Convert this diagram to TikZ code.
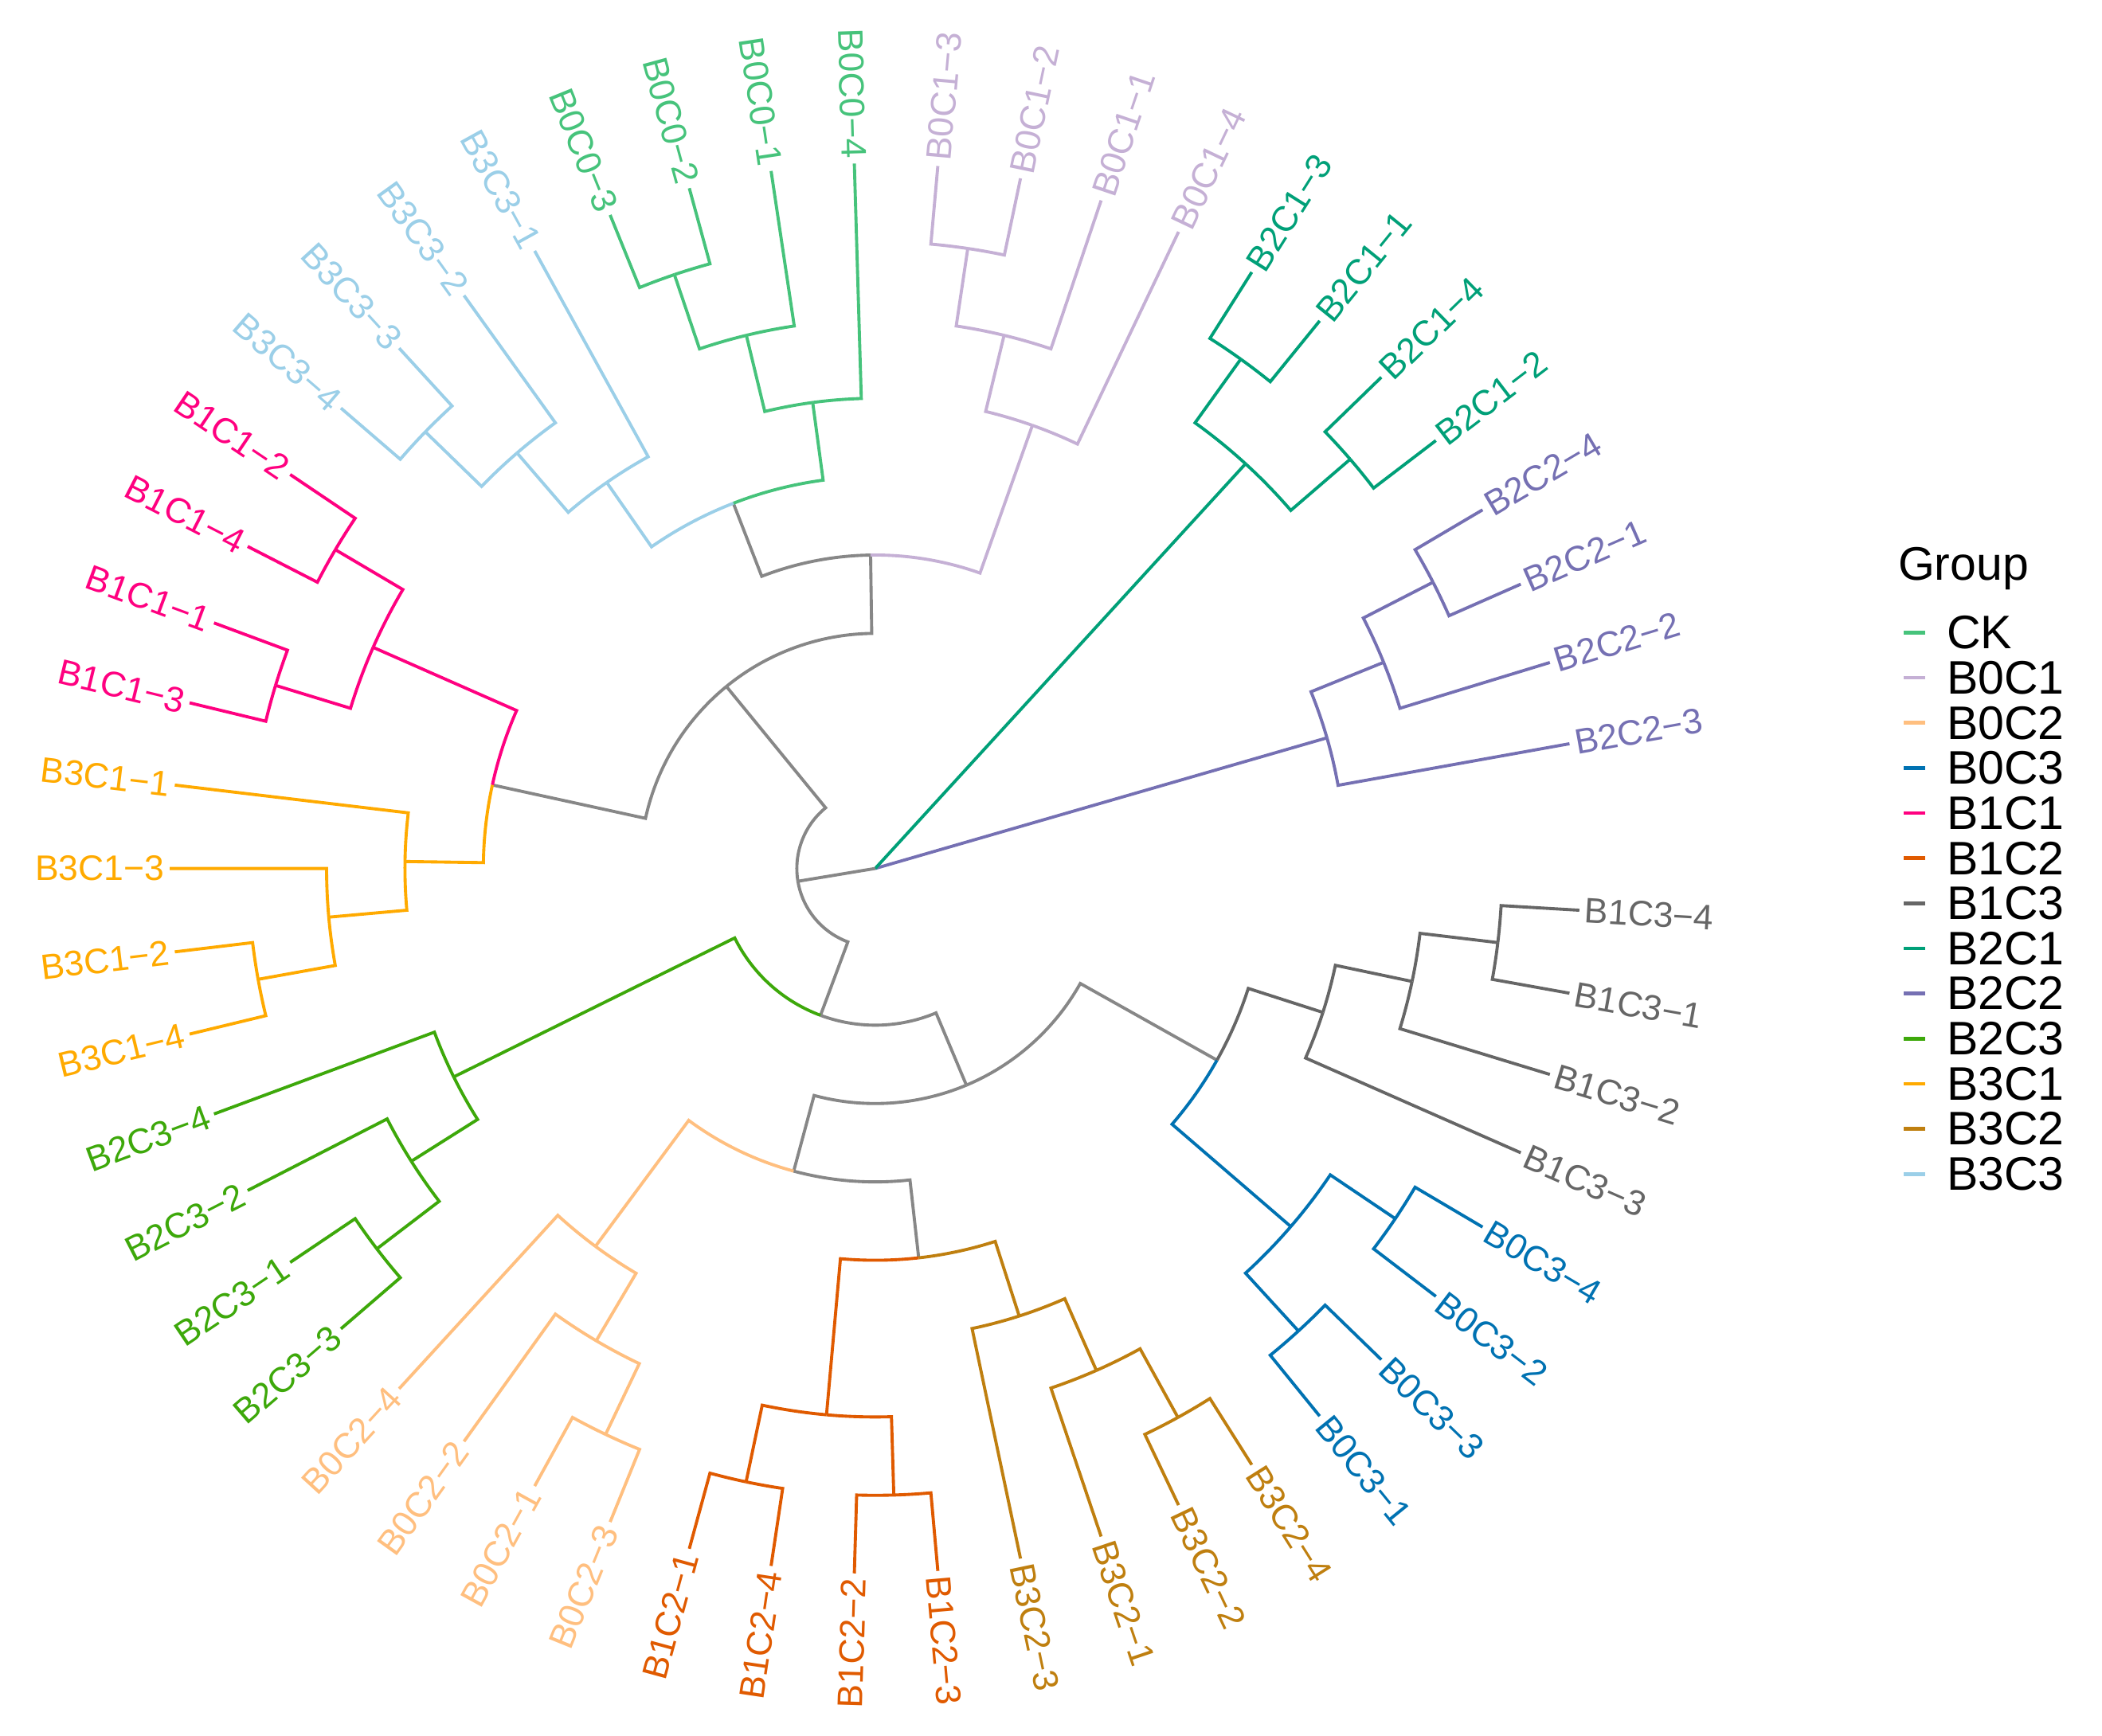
\documentclass[tikz,border=0pt]{standalone}
\usepackage{fontspec}
\setmainfont{Liberation Sans}
\definecolor{gry}{HTML}{878787}
\definecolor{cCK}{HTML}{46C37B}
\definecolor{cB0C1}{HTML}{C5B0D5}
\definecolor{cB0C2}{HTML}{FFBF7F}
\definecolor{cB0C3}{HTML}{0072B2}
\definecolor{cB1C1}{HTML}{FF0080}
\definecolor{cB1C2}{HTML}{E05A00}
\definecolor{cB1C3}{HTML}{666666}
\definecolor{cB2C1}{HTML}{00A078}
\definecolor{cB2C2}{HTML}{7570B3}
\definecolor{cB2C3}{HTML}{3DA80A}
\definecolor{cB3C1}{HTML}{FFAA00}
\definecolor{cB3C2}{HTML}{BF7F0F}
\definecolor{cB3C3}{HTML}{9BCFE8}
% branch: colour, parent y, parent level, child y, child level
\newcommand{\tbr}[5]{%
  \pgfmathsetmacro\tpa{(#2)*\D}\pgfmathsetmacro\tpr{(#3)*0.984}%
  \pgfmathsetmacro\tca{(#4)*\D}\pgfmathsetmacro\tcr{(#5)*0.984}%
  \draw[br,#1] ([shift={(C)}]\tpa:\tpr) arc[start angle=\tpa, end angle=\tca, radius=\tpr cm] -- ([shift={(C)}]\tca:\tcr);}
\newcommand{\rbr}[3]{%
  \pgfmathsetmacro\tca{(#2)*\D}\pgfmathsetmacro\tcr{(#3)*0.984}%
  \draw[br,#1] (C) -- ([shift={(C)}]\tca:\tcr);}
\newcommand{\ladderclade}[2]{%
  \tbr{#2}{#1+1.375}{6}{#1+0.5}{9}
  \tbr{#2}{#1+1.375}{6}{#1+2.25}{7}
  \tbr{#2}{#1+2.25}{7}{#1+1.5}{9}
  \tbr{#2}{#1+2.25}{7}{#1+3}{8}
  \tbr{#2}{#1+3}{8}{#1+2.5}{9}
  \tbr{#2}{#1+3}{8}{#1+3.5}{9}}
\newcommand{\balclade}[2]{%
  \tbr{#2}{#1+2}{7}{#1+1}{8}
  \tbr{#2}{#1+2}{7}{#1+3}{8}
  \tbr{#2}{#1+1}{8}{#1+0.5}{9}
  \tbr{#2}{#1+1}{8}{#1+1.5}{9}
  \tbr{#2}{#1+3}{8}{#1+2.5}{9}
  \tbr{#2}{#1+3}{8}{#1+3.5}{9}}
\newcommand{\leaflab}[3]{%
  \pgfmathsetmacro\ang{(#1+0.5)*\D}%
  \pgfmathsetmacro\angf{\ang+180}%
  \ifnum#1<13\relax
    \node[lab,text=#2,anchor=west,rotate=\ang] (t#1) at ([shift={(C)}]\ang:\R) {#3};
  \else\ifnum#1>39\relax
    \node[lab,text=#2,anchor=west,rotate=\ang] (t#1) at ([shift={(C)}]\ang:\R) {#3};
  \else
    \node[lab,text=#2,anchor=east,rotate=\angf] (t#1) at ([shift={(C)}]\ang:\R) {#3};
  \fi\fi}
\begin{document}
\begin{tikzpicture}[
  br/.style={line width=1.1pt},
  lab/.style={font=\fontsize{12.66}{14}\selectfont, inner sep=0pt, outer sep=0pt},
  leg/.style={font=\fontsize{16.8}{19}\selectfont, inner sep=0pt, outer sep=0pt},
  keyl/.style={line width=1.3pt}]
\useasboundingbox (0,0) rectangle (26.39,21.80);
\fill[white] (0,0) rectangle (26.39,21.80);
\coordinate (C) at (10.988,10.894);
\pgfmathsetmacro\D{360/53}
\def\R{8.926}
% backbone
\rbr{cB2C2}{2.375}{6}
\rbr{cB2C1}{7}{7}
\rbr{gry}{27.88671875}{1}
\tbr{gry}{27.88671875}{1}{19.03125}{3}
\tbr{gry}{27.88671875}{1}{36.7421875}{2}
\tbr{gry}{19.03125}{3}{13.375}{4}
\tbr{gry}{19.03125}{3}{24.6875}{5}
\tbr{gry}{13.375}{4}{16.375}{5}
\tbr{cB0C1}{13.375}{4}{10.375}{6}
\tbr{cCK}{16.375}{5}{14.375}{6}
\tbr{cB3C3}{16.375}{5}{18.375}{6}
\tbr{cB1C1}{24.6875}{5}{23}{7}
\tbr{cB3C1}{24.6875}{5}{26.375}{6}
\tbr{cB2C3}{36.7421875}{2}{30.375}{6}
\tbr{gry}{36.7421875}{2}{43.109375}{3}
\tbr{gry}{43.109375}{3}{37.53125}{4}
\tbr{gry}{43.109375}{3}{48.6875}{5}
\tbr{cB0C2}{37.53125}{4}{34.375}{6}
\tbr{gry}{37.53125}{4}{40.6875}{5}
\tbr{cB1C2}{40.6875}{5}{39}{7}
\tbr{cB3C2}{40.6875}{5}{42.375}{6}
\tbr{cB0C3}{48.6875}{5}{47}{7}
\tbr{cB1C3}{48.6875}{5}{50.375}{6}
% clades
\ladderclade{1}{cB2C2}
\balclade{5}{cB2C1}
\ladderclade{9}{cB0C1}
\ladderclade{13}{cCK}
\ladderclade{17}{cB3C3}
\balclade{21}{cB1C1}
\ladderclade{25}{cB3C1}
\ladderclade{29}{cB2C3}
\ladderclade{33}{cB0C2}
\balclade{37}{cB1C2}
\ladderclade{41}{cB3C2}
\balclade{45}{cB0C3}
\ladderclade{49}{cB1C3}
% tip labels
\leaflab{1}{cB2C2}{B2C2−3}
\leaflab{2}{cB2C2}{B2C2−2}
\leaflab{3}{cB2C2}{B2C2−1}
\leaflab{4}{cB2C2}{B2C2−4}
\leaflab{5}{cB2C1}{B2C1−2}
\leaflab{6}{cB2C1}{B2C1−4}
\leaflab{7}{cB2C1}{B2C1−1}
\leaflab{8}{cB2C1}{B2C1−3}
\leaflab{9}{cB0C1}{B0C1−4}
\leaflab{10}{cB0C1}{B0C1−1}
\leaflab{11}{cB0C1}{B0C1−2}
\leaflab{12}{cB0C1}{B0C1−3}
\leaflab{13}{cCK}{B0C0−4}
\leaflab{14}{cCK}{B0C0−1}
\leaflab{15}{cCK}{B0C0−2}
\leaflab{16}{cCK}{B0C0−3}
\leaflab{17}{cB3C3}{B3C3−1}
\leaflab{18}{cB3C3}{B3C3−2}
\leaflab{19}{cB3C3}{B3C3−3}
\leaflab{20}{cB3C3}{B3C3−4}
\leaflab{21}{cB1C1}{B1C1−2}
\leaflab{22}{cB1C1}{B1C1−4}
\leaflab{23}{cB1C1}{B1C1−1}
\leaflab{24}{cB1C1}{B1C1−3}
\leaflab{25}{cB3C1}{B3C1−1}
\leaflab{26}{cB3C1}{B3C1−3}
\leaflab{27}{cB3C1}{B3C1−2}
\leaflab{28}{cB3C1}{B3C1−4}
\leaflab{29}{cB2C3}{B2C3−4}
\leaflab{30}{cB2C3}{B2C3−2}
\leaflab{31}{cB2C3}{B2C3−1}
\leaflab{32}{cB2C3}{B2C3−3}
\leaflab{33}{cB0C2}{B0C2−4}
\leaflab{34}{cB0C2}{B0C2−2}
\leaflab{35}{cB0C2}{B0C2−1}
\leaflab{36}{cB0C2}{B0C2−3}
\leaflab{37}{cB1C2}{B1C2−1}
\leaflab{38}{cB1C2}{B1C2−4}
\leaflab{39}{cB1C2}{B1C2−2}
\leaflab{40}{cB1C2}{B1C2−3}
\leaflab{41}{cB3C2}{B3C2−3}
\leaflab{42}{cB3C2}{B3C2−1}
\leaflab{43}{cB3C2}{B3C2−2}
\leaflab{44}{cB3C2}{B3C2−4}
\leaflab{45}{cB0C3}{B0C3−1}
\leaflab{46}{cB0C3}{B0C3−3}
\leaflab{47}{cB0C3}{B0C3−2}
\leaflab{48}{cB0C3}{B0C3−4}
\leaflab{49}{cB1C3}{B1C3−3}
\leaflab{50}{cB1C3}{B1C3−2}
\leaflab{51}{cB1C3}{B1C3−1}
\leaflab{52}{cB1C3}{B1C3−4}
% legend
\node[leg,anchor=base west] (title) at (23.83,14.51) {Group};
\foreach \nm/\cl [count=\k from 0] in {CK/cCK,B0C1/cB0C1,B0C2/cB0C2,B0C3/cB0C3,B1C1/cB1C1,B1C2/cB1C2,B1C3/cB1C3,B2C1/cB2C1,B2C2/cB2C2,B2C3/cB2C3,B3C1/cB3C1,B3C2/cB3C2,B3C3/cB3C3}{
  \pgfmathsetmacro\yy{13.856-\k*0.5666}
  \coordinate (ka\k) at (23.90,\yy);
  \coordinate (kb\k) at (24.17,\yy);
  \draw[keyl,\cl] (ka\k) -- (kb\k);
  \node[leg,anchor=west] (lg\k) at (24.44,\yy) {\nm};
}
\end{tikzpicture}
\end{document}
